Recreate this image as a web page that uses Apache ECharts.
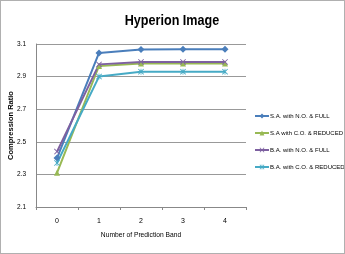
<!DOCTYPE html>
<html><head><meta charset="utf-8">
<script src="https://cdn.jsdelivr.net/npm/echarts@6/dist/echarts.min.js"></script>
<style>html,body{margin:0;padding:0;background:#fff}#c{width:343px;height:252px;border:1px solid #b0b0b0}</style>
</head><body><div id="c"></div>
<script>
const categories = ['0','1','2','3','4'];
const seriesNames = ['S.A. with N.O. & FULL','S.A with C.O. & REDUCED','B.A. with N.O. & FULL','B.A. with C.O. & REDUCED'];
const saNoFull = [2.40, 3.045, 3.067, 3.068, 3.068];
const saCoReduced = [2.31, 2.965, 2.980, 2.980, 2.980];
const baNoFull = [2.44, 2.975, 2.990, 2.990, 2.990];
const baCoReduced = [2.37, 2.900, 2.930, 2.930, 2.930];
const yLabels = ['2.1','2.3','2.5','2.7','2.9','3.1'];
const titleText = 'Hyperion Image';

const xPath = 'path://M0,1 L1,0 L5,4 L9,0 L10,1 L6,5 L10,9 L9,10 L5,6 L1,10 L0,9 L4,5 Z';
const starPath = 'path://M0,1 L1,0 L5,4 L9,0 L10,1 L6,5 L10,9 L9,10 L5,6 L1,10 L0,9 L4,5 Z M4.4,0 L5.6,0 L5.6,10 L4.4,10 Z';
const colors = ['#4A7EBB','#98B954','#7D60A0','#46AAC5'];
const symbols = ['diamond','triangle',xPath,starPath];
const datas = [saNoFull, saCoReduced, baNoFull, baCoReduced];
const sans = '"Liberation Sans", Arial, sans-serif';

const chart = echarts.init(document.getElementById('c'));
chart.setOption({
  animation:false,
  color: colors,
  graphic:[{type:'text', x:171, y:20, scaleX:0.84, originX:0, originY:0,
    style:{text:titleText, fontFamily:sans, fontWeight:'bold', fontSize:15, fill:'#000', align:'center', verticalAlign:'middle'}}],
  legend:{orient:'vertical', left:248, top:107, itemGap:11, itemWidth:14, itemHeight:6,
    textStyle:{fontFamily:sans, fontSize:6, color:'#000', padding:[0,0,0,-4]},
    data: seriesNames},
  grid:{left:35, right:98, top:43, bottom:46, containLabel:false, outerBoundsMode:'none'},
  xAxis:{type:'category', data:categories, boundaryGap:true,
    name:'Number of Prediction Band', nameLocation:'middle', nameGap:25, nameMoveOverlap:false,
    nameTextStyle:{fontFamily:sans, fontSize:6.7, color:'#000'},
    axisLine:{lineStyle:{color:'#888'}}, axisTick:{show:true, length:3, lineStyle:{color:'#888'}},
    axisLabel:{fontFamily:sans, fontSize:7, color:'#000', margin:11}},
  yAxis:{type:'value', min:2.1, max:3.1, interval:0.1,
    name:'Compression Ratio', nameLocation:'middle', nameGap:21, nameMoveOverlap:false,
    nameTextStyle:{fontFamily:sans, fontWeight:'bold', fontSize:7.5, color:'#000'},
    axisLine:{show:true, lineStyle:{color:'#888'}}, axisTick:{show:false},
    axisLabel:{fontFamily:sans, fontSize:6.5, color:'#000', margin:10,
      formatter:v=>{const s=v.toFixed(1); return yLabels.includes(s)?s:'';}},
    splitLine:{show:true, lineStyle:{color:['#999','rgba(0,0,0,0)'], width:1}}},
  series: seriesNames.map((n,i)=>({name:n, type:'line', data:datas[i], symbol:symbols[i],
    symbolSize: i===0?7:6, lineStyle:{width:2, color:colors[i]}, itemStyle:{color:colors[i]}}))
});
</script></body></html>
